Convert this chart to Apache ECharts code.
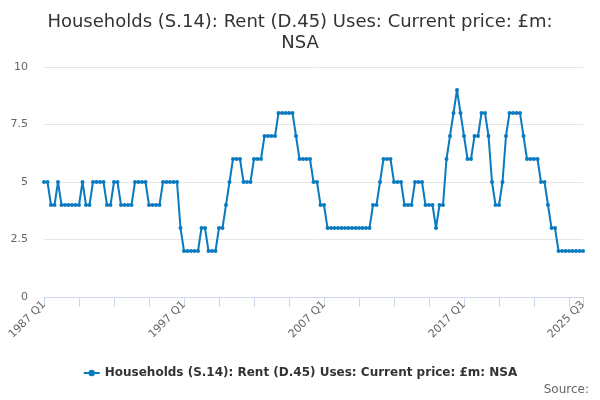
<!DOCTYPE html>
<html>
<head>
<meta charset="utf-8">
<script src="https://cdn.jsdelivr.net/npm/echarts@6/dist/echarts.min.js"></script>
<style>html,body{margin:0;padding:0;background:#fff}#c{width:600px;height:400px}</style>
</head>
<body>
<div id="c"></div>
<script>
var titleText = 'Households (S.14): Rent (D.45) Uses: Current price: £m:\nNSA';
var seriesName = 'Households (S.14): Rent (D.45) Uses: Current price: £m: NSA';
var startYear = 1987, endYear = 2025, endQuarter = 3;
var categories = [];
for (var y = startYear; y <= endYear; y++) {
  for (var q = 1; q <= 4; q++) {
    if (y === endYear && q > endQuarter) break;
    categories.push(y + ' Q' + q);
  }
}
var values = [
  5,5,4,4,5,4,4,4,4,4,4,5,4,4,5,5,5,5,4,4,
  5,5,4,4,4,4,5,5,5,5,4,4,4,4,5,5,5,5,5,3,
  2,2,2,2,2,3,3,2,2,2,3,3,4,5,6,6,6,5,5,5,
  6,6,6,7,7,7,7,8,8,8,8,8,7,6,6,6,6,5,5,4,
  4,3,3,3,3,3,3,3,3,3,3,3,3,3,4,4,5,6,6,6,
  5,5,5,4,4,4,5,5,5,4,4,4,3,4,4,6,7,8,9,8,
  7,6,6,7,7,8,8,7,5,4,4,5,7,8,8,8,8,7,6,6,
  6,6,5,5,4,3,3,2,2,2,2,2,2,2,2
];
var yTicks = [0, 2.5, 5, 7.5, 10];
var lastIdx = categories.length - 1;

var chart = echarts.init(document.getElementById('c'), null, {renderer: 'canvas'});
chart.setOption({
  animation: false,
  backgroundColor: '#fff',
  textStyle: {fontFamily: 'DejaVu Sans'},
  title: {
    text: titleText,
    left: 'center',
    top: 7,
    textStyle: {fontSize: 18, fontWeight: 'normal', color: '#333', lineHeight: 21, fontFamily: 'DejaVu Sans'}
  },
  grid: {left: 44, right: 17, top: 67, bottom: 103, containLabel: false},
  xAxis: {
    type: 'category',
    data: categories,
    boundaryGap: false,
    axisLine: {lineStyle: {color: '#ccd6eb'}},
    axisTick: {
      length: 10,
      lineStyle: {color: '#ccd6eb'},
      interval: function (i) { return i % 10 === 0 || i === lastIdx; }
    },
    axisLabel: {
      rotate: 45,
      color: '#666',
      fontSize: 11,
      margin: 6,
      interval: function (i) { return i % 40 === 0 || i === lastIdx; }
    },
    splitLine: {show: false}
  },
  yAxis: {
    type: 'value',
    min: yTicks[0],
    max: yTicks[yTicks.length - 1],
    interval: 2.5,
    axisLine: {show: false},
    axisTick: {show: false},
    axisLabel: {color: '#666', fontSize: 11, margin: 16},
    splitLine: {lineStyle: {color: '#e6e6e6'}}
  },
  legend: {
    bottom: 16,
    left: 'center',
    itemWidth: 16,
    itemHeight: 8,
    textStyle: {fontSize: 12, fontWeight: 'bold', color: '#333'},
    data: [seriesName]
  },
  graphic: [{
    type: 'text',
    right: 11,
    top: 384,
    style: {text: 'Source:', fill: '#666', font: '12px "DejaVu Sans"'}
  }],
  series: [{
    name: seriesName,
    type: 'line',
    data: values,
    symbol: 'circle',
    symbolSize: 4,
    showAllSymbol: true,
    itemStyle: {color: '#0a7bc0'},
    lineStyle: {width: 2, color: '#0a7bc0'}
  }]
});
</script>
</body>
</html>
